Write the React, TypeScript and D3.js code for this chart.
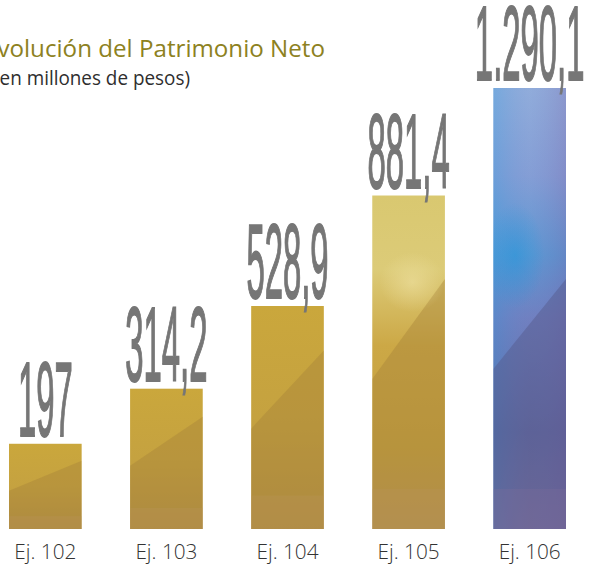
import React from 'react';
import {scaleBand,scalePow} from 'd3';

const categories=["Ej. 102","Ej. 103","Ej. 104","Ej. 105","Ej. 106"];
const values=[197,314.2,528.9,881.4,1290.1];
const valueLabels=["197","314,2","528,9","881,4","1.290,1"];

// gradient stops per bar (decor only)
const goldStops=[[0,"#caa73c"],[0.5,"#c5a240"],[1,"#b38f46"]];
const paleStops=[[0,"#d9c870"],[0.22,"#dccb78"],[0.45,"#cca846"],[0.75,"#c4a040"],[1,"#b8955a"]];
const blueStops=[[0,"#93b0dc"],[0.2,"#85a0d6"],[0.38,"#5a98d2"],[0.52,"#6f7fbf"],[0.78,"#62679f"],[1,"#7c6f9c"]];

const W=590,H=564;

const App=()=>{
  const baseY=529;
  const xScale=scaleBand().domain(categories).range([9,566]).paddingInner(0.4).paddingOuter(0);
  // the original is not drawn to a linear scale, a power scale fits it
  const yScale=scalePow().exponent(0.6).domain([62,1290.1]).range([baseY,88]);
  const bw=xScale.bandwidth();
  const stopsFor=(i:number)=>i<3?goldStops:(i===3?paleStops:blueStops);

  return (
    <svg width={W} height={H} style={{position:"absolute",left:0,top:0,background:"#fff"}}>
      <defs>
        {categories.map((c,i)=>(
          <linearGradient key={c} id={`g${i}`} x1="0" y1="0" x2="0" y2="1">
            {stopsFor(i).map((s,j)=><stop key={j} offset={s[0] as number} stopColor={s[1] as string}/>)}
          </linearGradient>
        ))}
        <linearGradient id="side" x1="0" y1="0" x2="1" y2="0">
          <stop offset="0" stopColor="#2f9ae0" stopOpacity="0.3"/>
          <stop offset="0.5" stopColor="#7a8ad0" stopOpacity="0.1"/>
          <stop offset="1" stopColor="#7a5ea8" stopOpacity="0.3"/>
        </linearGradient>
        <radialGradient id="spotB">
          <stop offset="0" stopColor="#1e96dc" stopOpacity="0.5"/>
          <stop offset="1" stopColor="#1e96dc" stopOpacity="0"/>
        </radialGradient>
        <radialGradient id="spotY">
          <stop offset="0" stopColor="#f1e4a6" stopOpacity="0.55"/>
          <stop offset="1" stopColor="#f1e4a6" stopOpacity="0"/>
        </radialGradient>
        {categories.map((c,i)=>(
          <clipPath key={c} id={`c${i}`}>
            <rect x={xScale(c)} y={yScale(values[i])} width={bw} height={baseY-yScale(values[i])}/>
          </clipPath>
        ))}
      </defs>

      <text x={-16} y={57} fontFamily="'Open Sans', sans-serif" fontSize={23} fill="#8d8121"
        textLength={341} lengthAdjust="spacingAndGlyphs">Evolución del Patrimonio Neto</text>
      <text x={-6} y={85} fontFamily="'Open Sans', sans-serif" fontSize={20.5} fill="#2e2e2e"
        textLength={196} lengthAdjust="spacingAndGlyphs">(en millones de pesos)</text>

      {categories.map((c,i)=>{
        const x=xScale(c) as number;
        const y=yScale(values[i]);
        const h=baseY-y;
        const cx=x+bw/2;
        const darkTone=i<4?"#a8863a":"#55598a";
        return (
          <g key={c}>
            <rect x={x} y={y} width={bw} height={h} fill={`url(#g${i})`}/>
            {i===4 && <rect x={x} y={y} width={bw} height={h} fill="url(#side)"/>}
            <g clipPath={`url(#c${i})`}>
              <polygon
                points={`${x},${baseY-Math.min(h*0.45,160)} ${x+bw},${baseY-Math.min(h*0.8,250)} ${x+bw},${baseY} ${x},${baseY}`}
                fill={darkTone} opacity={0.45}/>
              <rect x={x} y={baseY-Math.min(h*0.15,40)} width={bw} height={Math.min(h*0.15,40)} fill={i<4?"#b89458":"#7e6e9a"} opacity={0.3}/>
              {i===3 && <ellipse cx={x+bw*0.55} cy={y+h*0.26} rx={bw*0.45} ry={h*0.09} fill="url(#spotY)"/>}
              {i===4 && <ellipse cx={x+bw*0.3} cy={y+h*0.38} rx={bw*0.4} ry={h*0.12} fill="url(#spotB)"/>}
            </g>
            <text transform={`translate(${cx},${y-8}) scale(0.31,1)`} textAnchor="middle"
              fontFamily="'Liberation Sans', Arial, sans-serif" fontSize={106} fill="#767676"
              stroke="#767676" strokeWidth={1.4} vectorEffect="non-scaling-stroke">{valueLabels[i]}</text>
            <text x={cx} y={559} textAnchor="middle" fontFamily="'Open Sans', sans-serif" fontSize={21}
              fontWeight={300} fill="#333" textLength={62} lengthAdjust="spacingAndGlyphs">{c}</text>
          </g>
        );
      })}
    </svg>
  );
};

export default App;
